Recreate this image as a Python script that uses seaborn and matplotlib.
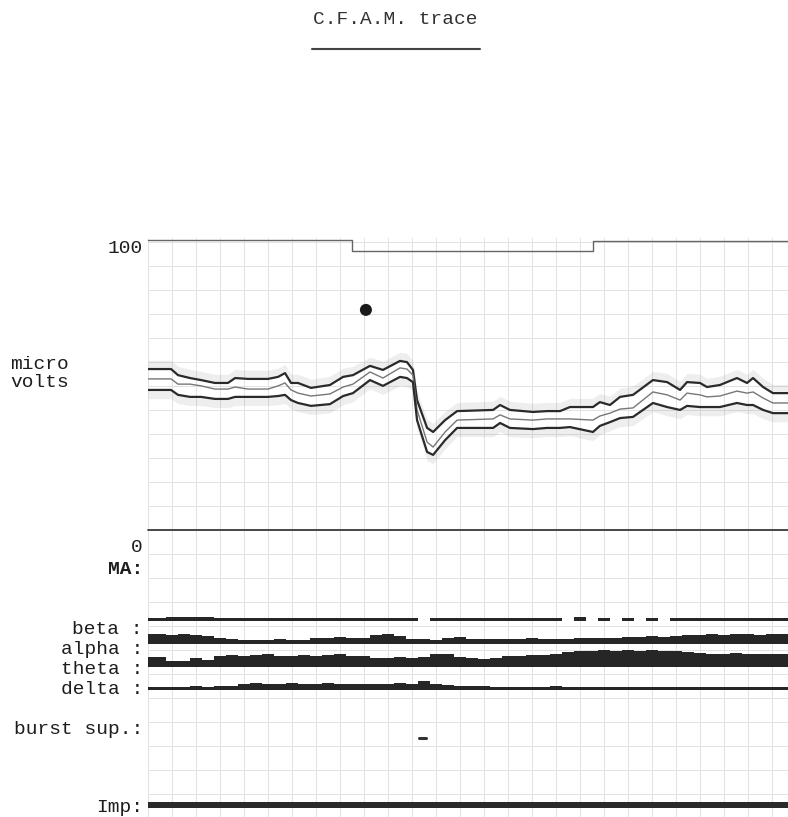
import numpy as np
import pandas as pd
import matplotlib
matplotlib.use("Agg")
import matplotlib.pyplot as plt
import seaborn as sns
from matplotlib.ticker import MultipleLocator
from matplotlib.lines import Line2D

# ---------------- data ----------------
title = "C.F.A.M. trace"

# time in grid cells (one cell per chart-paper division)
time_cells = [0.0, 0.96, 1.25, 1.75, 2.21, 2.79, 3.33, 3.63, 4.17, 5.0,
              5.42, 5.71, 5.96, 6.25, 6.79, 7.58, 8.13, 8.54, 9.25, 9.79,
              10.5, 10.79, 11.04, 11.21, 11.63, 11.88, 12.38, 12.88, 14.38, 14.67,
              15.08, 16.04, 16.63, 17.17, 17.58, 18.54, 18.83, 19.25, 19.67, 20.21,
              21.04, 21.63, 22.17, 22.46, 23.0, 23.29, 23.83, 24.54, 24.96, 25.21,
              25.63, 26.04, 26.67]
upper_uv = [55.5, 55.5, 53.4, 52.4, 51.7, 50.7, 50.7, 52.4, 52.1, 52.1,
            52.8, 54.1, 50.7, 50.7, 49.0, 50.0, 52.8, 53.4, 56.6, 55.2,
            58.3, 57.9, 55.2, 44.8, 35.2, 33.8, 37.9, 41.0, 41.4, 43.1,
            41.4, 40.7, 41.0, 41.0, 42.4, 42.4, 44.1, 43.1, 45.9, 46.6,
            51.7, 51.0, 48.3, 51.0, 50.7, 49.3, 50.0, 52.4, 50.7, 52.4,
            49.3, 47.2, 47.2]
median_uv = [52.1, 52.1, 50.3, 50.3, 49.7, 48.6, 48.6, 49.3, 48.6, 48.6,
             49.7, 50.7, 48.3, 47.2, 46.2, 46.9, 49.3, 50.3, 54.5, 52.4,
             55.9, 55.5, 53.4, 41.4, 30.3, 28.6, 33.8, 37.9, 38.3, 39.7,
             38.3, 37.9, 38.3, 38.3, 38.3, 37.9, 39.3, 40.3, 41.7, 42.1,
             47.6, 46.6, 44.8, 47.2, 46.6, 45.9, 46.2, 47.9, 47.2, 47.6,
             45.5, 43.8, 43.8]
lower_uv = [48.3, 48.3, 46.6, 45.9, 45.9, 45.2, 45.2, 45.9, 45.9, 45.9,
            46.2, 46.6, 44.8, 43.8, 42.8, 43.4, 46.2, 47.2, 51.7, 49.7,
            52.8, 52.4, 51.0, 37.9, 26.9, 25.9, 31.0, 35.2, 35.2, 36.9,
            35.2, 34.8, 35.2, 35.2, 35.5, 33.8, 35.9, 37.2, 38.6, 39.0,
            43.8, 42.4, 41.4, 42.8, 42.4, 42.4, 42.4, 43.8, 43.1, 43.1,
            41.4, 40.3, 40.3]

# top marker trace
marker_time = [0.0, 8.5, 18.54, 26.67]
marker_level = [100.0, 96.2, 99.7, 99.7]
event_time = [9.08]
event_uv = [75.9]

# frequency band activity (relative power, arbitrary units)
band_time = [0.0, 0.5, 1.0, 1.5, 2.0, 2.5, 3.0, 3.5, 4.0, 4.5,
             5.0, 5.5, 6.0, 6.5, 7.0, 7.5, 8.0, 8.5, 9.0, 9.5,
             10.0, 10.5, 11.0, 11.5, 12.0, 12.5, 13.0, 13.5, 14.0, 14.5,
             15.0, 15.5, 16.0, 16.5, 17.0, 17.5, 18.0, 18.5, 19.0, 19.5,
             20.0, 20.5, 21.0, 21.5, 22.0, 22.5, 23.0, 23.5, 24.0, 24.5,
             25.0, 25.5, 26.0, 26.5]
nan = np.nan
beta_power = [3, 3, 4, 4, 4, 4, 3, 3, 3, 3,
              3, 3, 3, 3, 3, 3, 3, 3, 3, 3,
              3, 3, 3, nan, 3, 3, 3, 3, 3, 3,
              3, 3, 3, 3, 3, nan, 4, nan, 3, nan,
              3, nan, 3, nan, 3, 3, 3, 3, 3, 3,
              3, 3, 3, 3]
alpha_power = [10, 10, 9, 10, 9, 8, 6, 5, 4, 4,
               4, 5, 4, 4, 6, 6, 7, 6, 6, 9,
               10, 8, 5, 5, 4, 6, 7, 5, 5, 5,
               5, 5, 6, 5, 5, 5, 6, 6, 6, 6,
               7, 7, 8, 7, 8, 9, 9, 10, 9, 10,
               10, 9, 10, 10]
theta_power = [10, 10, 6, 6, 9, 7, 11, 12, 11, 12,
               13, 11, 11, 12, 11, 12, 13, 11, 11, 9,
               9, 10, 9, 10, 13, 13, 10, 9, 8, 9,
               11, 11, 12, 12, 13, 15, 16, 16, 17, 16,
               17, 16, 17, 16, 16, 15, 14, 13, 13, 14,
               13, 13, 13, 13]
delta_power = [3, 3, 3, 3, 4, 3, 4, 4, 6, 7,
               6, 6, 7, 6, 6, 7, 6, 6, 6, 6,
               6, 7, 6, 9, 6, 5, 4, 4, 4, 3,
               3, 3, 3, 3, 4, 3, 3, 3, 3, 3,
               3, 3, 3, 3, 3, 3, 3, 3, 3, 3,
               3, 3, 3, 3]
imp_time = [0.0, 26.67]
imp_level = [6, 6]
burst_time = [11.3, 11.6]

row_labels = ["0", "MA:", "beta :", "alpha :", "theta :", "delta :", "burst sup.:", "Imp:"]

# ---------------- style / layout ----------------
sns.set_theme(style="white")
plt.rcParams["font.family"] = ["Liberation Mono", "DejaVu Sans Mono"]
TXT = "#1e1e1e"
FS = 14

W, H = 788, 817
fig = plt.figure(figsize=(W / 100, H / 100), dpi=100)
fig.patch.set_facecolor("white")

L = 148 / W
AW = 640 / W

# background chart-paper grid (pixel-like units)
ax_bg = fig.add_axes([L, 0, AW, (H - 238) / H])
ax_bg.set_xlim(148, 788)
ax_bg.set_ylim(817, 238)
ax_bg.xaxis.set_major_locator(MultipleLocator(24, offset=4))
ax_bg.yaxis.set_major_locator(MultipleLocator(24, offset=2))
ax_bg.grid(True, color="#e2e2e2", lw=0.7)
ax_bg.tick_params(length=0, labelleft=False, labelbottom=False)
for s in ax_bg.spines.values():
    s.set_visible(False)
ax_bg.set_facecolor("white")

# upper amplitude panel
ax_up = fig.add_axes([L, (H - 530) / H, AW, (530 - 238) / H])
ax_up.set_facecolor("none")
ax_up.set_xlim(0, 26.667)
ax_up.set_ylim(0, 100.69)

ax_up.fill_between(time_cells, upper_uv, np.array(upper_uv) + 3.0, color="#777777", alpha=0.12, lw=0)
ax_up.fill_between(time_cells, np.array(lower_uv) - 3.0, lower_uv, color="#777777", alpha=0.12, lw=0)
sns.lineplot(x=time_cells, y=upper_uv, ax=ax_up, color="#2a2a2a", lw=1.6, sort=False)
sns.lineplot(x=time_cells, y=median_uv, ax=ax_up, color="#777777", lw=1.0, sort=False)
sns.lineplot(x=time_cells, y=lower_uv, ax=ax_up, color="#2a2a2a", lw=1.6, sort=False)
ax_up.plot(marker_time, marker_level, drawstyle="steps-post", color="#666666", lw=1.0, clip_on=False)
sns.scatterplot(x=event_time, y=event_uv, ax=ax_up, color="#1a1a1a", s=75, edgecolor="none", zorder=5)
ax_up.axhline(0, color="#3a3a3a", lw=1.3, clip_on=False)

ax_up.set_xticks([])
ax_up.set_yticks([100])
ax_up.set_yticklabels(["100"], fontsize=FS, color=TXT, va="top")
ax_up.tick_params(axis="y", length=0, pad=3.6)
ax_up.set_xlabel("")
ax_up.set_ylabel("")
for s in ax_up.spines.values():
    s.set_visible(False)

# lower band panel (offsets measured downward)
ax_lo = fig.add_axes([L, 0, AW, (H - 530) / H])
ax_lo.set_facecolor("none")
ax_lo.set_xlim(0, 26.667)
ax_lo.set_ylim(287, 0)

bases = {"beta": 91, "alpha": 114, "theta": 137, "delta": 160}
bands = {"beta": beta_power, "alpha": alpha_power, "theta": theta_power, "delta": delta_power}
for name, vals in bands.items():
    v = np.array(vals, dtype=float)
    ax_lo.bar(band_time, v, bottom=bases[name] - v, width=0.5, color="#262626",
              linewidth=0, antialiased=False)
ax_lo.fill_between(imp_time, 278 - np.array(imp_level), 278, color="#2a2a2a", lw=0)
ax_lo.plot(burst_time, [208, 208], color="#333333", lw=2.2)

ax_lo.set_xticks([])
ax_lo.set_yticks([16, 38, 97, 117, 137, 158, 197, 275])
ax_lo.set_yticklabels(row_labels, fontsize=FS, color=TXT)
ax_lo.get_yticklabels()[1].set_fontweight("bold")
ax_lo.tick_params(axis="y", length=0, pad=3.6)
for s in ax_lo.spines.values():
    s.set_visible(False)

# titles and side labels
fig.text(395 / W, 1 - 20 / H, title, ha="center", va="center", fontsize=FS, color="#333333")
fig.add_artist(Line2D([312 / W, 480 / W], [1 - 49 / H] * 2, transform=fig.transFigure,
                      color="#444444", lw=1.5))
fig.text(10 / W, 1 - 365 / H, "micro", ha="left", va="center", fontsize=FS, color=TXT)
fig.text(10 / W, 1 - 382 / H, "volts", ha="left", va="center", fontsize=FS, color=TXT)

fig.savefig("out.png", dpi=100, facecolor="white")
